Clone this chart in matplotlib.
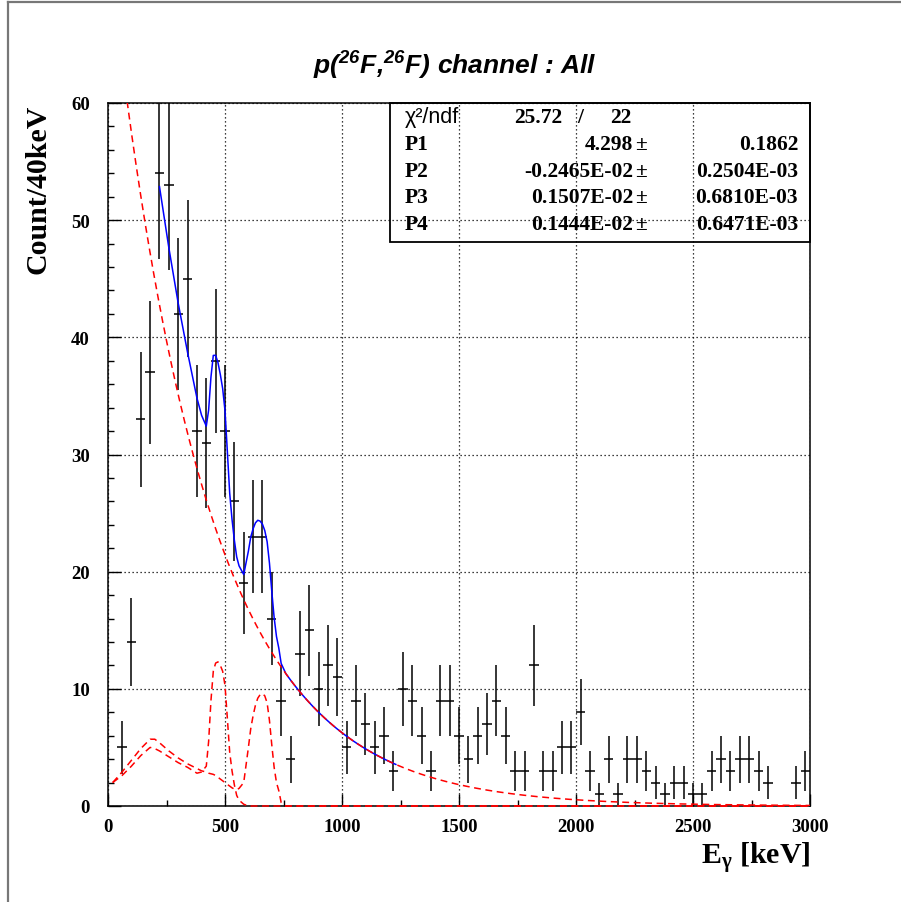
import numpy as np
import matplotlib
matplotlib.use("Agg")
import matplotlib.pyplot as plt
from matplotlib.lines import Line2D
from matplotlib.patches import Rectangle

plt.rcParams["mathtext.fontset"] = "custom"
plt.rcParams["mathtext.rm"] = "Liberation Sans:italic:bold"
plt.rcParams["mathtext.it"] = "Liberation Sans:italic:bold"
plt.rcParams["mathtext.bf"] = "Liberation Serif:bold"

# ---- histogram: 40 keV bins from 0 to 3000 keV ----
bin_width = 40
bin_centers = np.arange(20, 3000, bin_width)
counts = np.array([
    0, 5, 14, 33, 37, 54, 53, 42, 45, 32,
    31, 38, 32, 26, 19, 23, 23, 16, 9, 4,
    13, 15, 10, 12, 11, 5, 9, 7, 5, 6,
    3, 10, 9, 6, 3, 9, 9, 6, 4, 6,
    7, 9, 6, 3, 3, 12, 3, 3, 5, 5,
    8, 3, 1, 4, 1, 4, 4, 3, 2, 1,
    2, 2, 1, 1, 3, 4, 3, 4, 4, 3,
    2, 0, 0, 2, 3,
])

# ---- fit results ----
P1, P1_err = 4.298, 0.1862
P2, P2_err = -0.2465e-02, 0.2504e-03
P3, P3_err = 0.1507e-02, 0.6810e-03
P4, P4_err = 0.1444e-02, 0.6471e-03
chi2, ndf = 25.72, 22
fit_range = (220, 1230)

# scaled detector response components (460 keV and 660 keV lines)
x_comp = np.array([
    20, 60, 100, 140, 180, 200, 220, 260, 300, 340,
    380, 400, 420, 430, 440, 450, 460, 470, 480, 490,
    500, 510, 520, 530, 540, 550, 560, 580, 600, 610,
    620, 630, 640, 650, 660, 670, 680, 690, 700, 710,
    720, 730, 740, 760, 800, 3000,
])
resp_460 = np.array([
    2.0, 2.6, 3.4, 4.3, 5.0, 4.9, 4.7, 4.2, 3.7, 3.3,
    2.8, 2.9, 3.4, 5.5, 9.0, 11.5, 12.2, 12.3, 12.0, 11.5,
    10.3, 7.5, 4.6, 3.0, 1.8, 0.9, 0.5, 0.15, 0.0, 0.0,
    0.0, 0.0, 0.0, 0.0, 0.0, 0.0, 0.0, 0.0, 0.0, 0.0,
    0.0, 0.0, 0.0, 0.0, 0.0, 0.0,
])
resp_660 = np.array([
    2.0, 2.9, 3.9, 4.9, 5.7, 5.7, 5.4, 4.7, 4.1, 3.6,
    3.2, 3.0, 2.9, 2.8, 2.75, 2.7, 2.6, 2.45, 2.3, 2.15,
    2.0, 1.85, 1.7, 1.55, 1.45, 1.4, 1.5, 2.0, 5.0, 6.6,
    7.7, 8.6, 9.2, 9.5, 9.6, 9.4, 8.8, 7.3, 5.2, 3.3,
    2.0, 1.3, 0.3, 0.0, 0.0, 0.0,
])


def background(x):
    return np.exp(P1 + P2 * x)


W, H = 901, 903
fig = plt.figure(figsize=(W / 100, H / 100), dpi=100)
fig.patch.set_facecolor("white")

left, right, top, bottom = 108, 810, 104, 807
ax = fig.add_axes([left / W, 1 - bottom / H, (right - left) / W, (bottom - top) / H])
ax.set_xlim(0, 3000)
ax.set_ylim(0, 60)

# grid
ax.set_axisbelow(True)
ax.grid(True, which="major", color="black", linestyle=(0, (1, 2.2)), linewidth=0.9)

# data with errors
nz = counts > 0
ax.errorbar(bin_centers[nz], counts[nz], xerr=bin_width / 2, yerr=np.sqrt(counts[nz]),
            fmt="none", ecolor="black", elinewidth=1.1, capsize=0, zorder=3)

# total fit (background + both line responses) over the fit range
xf_dense = np.linspace(780, fit_range[1], 60)
sel = (x_comp >= fit_range[0]) & (x_comp <= 760)
x_fit = np.concatenate([x_comp[sel], xf_dense])
y_fit = np.concatenate([background(x_comp[sel]) + resp_460[sel] + resp_660[sel],
                        background(xf_dense)])
ax.plot(x_fit, y_fit, color="#0000ff", linewidth=1.1, zorder=4)

# components
dash = (0, (4.5, 3))
x_bg = np.linspace(0, 3000, 800)
ax.plot(x_bg, background(x_bg), color="#ff0000", linestyle=dash, linewidth=1.1, zorder=5)
ax.plot(x_comp, resp_460, color="#ff0000", linestyle=dash, linewidth=1.1, zorder=5, clip_on=False)
ax.plot(x_comp, resp_660, color="#ff0000", linestyle=dash, linewidth=1.1, zorder=5, clip_on=False)

# axes styling
for side in ["top", "right", "left", "bottom"]:
    ax.spines[side].set_linewidth(1.1)
ax.set_xticks(np.arange(0, 3001, 500))
ax.set_xticks(np.arange(250, 3000, 500), minor=True)
ax.set_yticks(np.arange(0, 61, 10))
ax.set_yticks(np.arange(0, 61, 2), minor=True)
ax.tick_params(which="both", direction="in", top=False, right=False, width=1.0)
ax.tick_params(which="major", length=9)
ax.tick_params(which="minor", length=4.5)
ax.tick_params(axis="y", which="major", pad=13)
ax.tick_params(axis="x", which="major", pad=9)
for lab in ax.get_xticklabels() + ax.get_yticklabels():
    lab.set_fontfamily("Liberation Serif")
    lab.set_fontweight("bold")
    lab.set_fontsize(13.5)


def ftext(px, py, s, **kw):
    return fig.text(px / W, 1 - py / H, s, **kw)


# title and axis titles
ftext(455, 66, r"p($^{26}$F,$^{26}$F) channel : All", ha="center", va="center",
      fontfamily="Liberation Sans", fontstyle="italic", fontweight="bold", fontsize=19)
ftext(38, 105, "Count/40keV", rotation=90, ha="center", va="top",
      fontfamily="Liberation Serif", fontweight="bold", fontsize=21.5)
ftext(810, 858, r"$\mathbf{E}_{\mathbf{\gamma}}$ [keV]", ha="right", va="center",
      fontfamily="Liberation Serif", fontweight="bold", fontsize=21.5)

# fit statistics box
bx0, bx1, by0, by1 = 390, 810, 104, 243
fig.add_artist(Rectangle((bx0 / W, 1 - by1 / H), (bx1 - bx0) / W, (by1 - by0) / H,
                         fill=False, edgecolor="black", linewidth=1.3, zorder=10))
box_fs = 15.5
serif_b = dict(fontfamily="Liberation Serif", fontweight="bold", fontsize=box_fs, va="center")
ftext(405, 118, "χ²/ndf", fontfamily="Liberation Sans", fontsize=box_fs, va="center")
ftext(562, 118, f"{chi2:.2f}", ha="right", **serif_b)
ftext(580, 118, "/", ha="center", **serif_b)
ftext(610, 118, f"{ndf:d}", ha="left", **serif_b)


def fortran_e(v):
    # ROOT-style 0.xxxxE-nn formatting
    exp = int(np.floor(np.log10(abs(v)))) + 1
    mant = v / 10 ** exp
    sign = "-" if exp < 0 else "+"
    return f"{mant:.4f}E{sign}{abs(exp):02d}"


rows = [
    ("P1", f"{P1:.3f}", f"{P1_err:.4f}"),
    ("P2", fortran_e(P2), fortran_e(P2_err)),
    ("P3", fortran_e(P3), fortran_e(P3_err)),
    ("P4", fortran_e(P4), fortran_e(P4_err)),
]
row_y = [145, 172, 198, 225]
for (name, val, err), yy in zip(rows, row_y):
    ftext(405, yy, name, ha="left", **serif_b)
    ftext(633, yy, val, ha="right", **serif_b)
    ftext(635, yy, "±", ha="left", fontfamily="Liberation Serif", fontweight="bold",
          fontsize=box_fs, va="center")
    ftext(798, yy, err, ha="right", **serif_b)

# canvas edge lines
fig.add_artist(Line2D([8 / W, 8 / W], [0, 1 - 3 / H], color="#777777", linewidth=1.6))
fig.add_artist(Line2D([8 / W, 1], [1 - 3 / H, 1 - 3 / H], color="#777777", linewidth=1.6))

fig.savefig("out.png", dpi=100, facecolor="white")
